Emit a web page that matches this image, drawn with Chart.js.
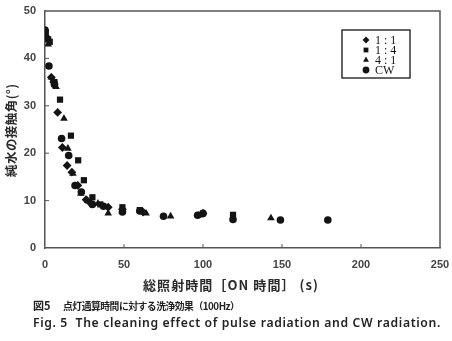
<!DOCTYPE html>
<html lang="ja">
<head>
<meta charset="UTF-8">
<title>洗浄効果</title>
<script src="https://cdn.jsdelivr.net/npm/chart.js"></script>
<style>
    html, body { margin: 0; padding: 0; background: #fff; }
    canvas { display: block; }
</style>
</head>
<body>
<canvas id="c" width="452" height="341"></canvas>
<script>
// 照射時間 [s] と純水の接触角 [°]
const seriesNames = ['1 : 1', '1 : 4', '4 : 1', 'CW'];
const pointStyles = ['rectRot', 'rect', 'triangle', 'circle'];

const x11 = [1, 4, 5.5, 8, 11, 14, 17, 20.8, 26, 29, 40, 49, 62, 100];
const y11 = [44.5, 36, 35, 28.6, 21.2, 17.4, 16, 13.2, 10.2, 9.4, 8.6, 8.2, 7.6, 7.3];

const x14 = [0.5, 2, 3, 6, 9.5, 16.4, 21, 24.6, 30, 35, 49, 60, 119];
const y14 = [45.5, 44, 43.5, 35, 31.3, 23.7, 18.5, 14.3, 10.7, 9.2, 8.6, 8.0, 7.0];

const x41 = [2, 4, 7, 12, 14.5, 17.7, 22.7, 27, 33.5, 40, 49, 64, 79.5, 97, 143];
const y41 = [43, 36, 34, 27.3, 21, 15.7, 11.5, 10, 9.4, 7.3, 7.8, 7.3, 6.7, 6.9, 6.3];

const xCW = [0, 2.5, 6, 10.5, 15, 19, 23, 30, 37, 49, 60, 75, 96.6, 100, 119, 149, 179];
const yCW = [46, 38.4, 34.5, 23.1, 19.5, 13.2, 11.8, 9.2, 8.8, 7.6, 7.8, 6.7, 6.9, 7.3, 6.0, 5.9, 5.9];

const xTicks = [0, 50, 100, 150, 200, 250];
const yTicks = [0, 10, 20, 30, 40, 50];

const xTitle = '総照射時間［ON 時間］ (s)';
const yTitle = '純水の接触角(°)';
const caption1a = '図5';
const caption1b = '点灯通算時間に対する洗浄効果（100Hz）';
const caption2 = 'Fig. 5  The cleaning effect of pulse radiation and CW radiation.';

const seriesX = [x11, x14, x41, xCW];
const seriesY = [y11, y14, y41, yCW];

const ink = '#141414';
const axisGray = '#555';

function pts(xs, ys) {
    return xs.map((x, i) => ({ x: x, y: ys[i] }));
}

const datasets = seriesNames.map((name, i) => ({
    label: name,
    data: pts(seriesX[i], seriesY[i]),
    pointStyle: pointStyles[i],
    pointRadius: pointStyles[i] === 'circle' ? 3.8 : 4.4,
    backgroundColor: ink,
    borderColor: ink,
    borderWidth: 0
}));

// draw text at a fixed font size, spreading the letters to fill a width
function spreadText(ctx, text, x, y, width) {
    ctx.letterSpacing = '0px';
    const n = [...text].length;
    const extra = (width - ctx.measureText(text).width) / Math.max(n - 1, 1);
    ctx.letterSpacing = extra.toFixed(2) + 'px';
    ctx.fillText(text, x, y);
    ctx.letterSpacing = '0px';
}

// 枠・内向き目盛・凡例・軸タイトル・図題
const decorations = {
    id: 'decorations',
    afterDraw(chart) {
        const ctx = chart.ctx;
        const a = chart.chartArea;
        const xs = chart.scales.x, ys = chart.scales.y;
        ctx.save();

        // top / right frame
        ctx.strokeStyle = axisGray;
        ctx.lineWidth = 1.5;
        ctx.beginPath();
        ctx.moveTo(a.left, a.top);
        ctx.lineTo(a.right, a.top);
        ctx.lineTo(a.right, a.bottom);
        ctx.stroke();

        // inward tick marks
        ctx.lineWidth = 1;
        ctx.beginPath();
        yTicks.slice(1, -1).forEach(v => {
            const py = ys.getPixelForValue(v);
            ctx.moveTo(a.left, py);
            ctx.lineTo(a.left + 4, py);
        });
        xTicks.slice(1, -1).forEach(v => {
            const px = xs.getPixelForValue(v);
            ctx.moveTo(px, a.bottom);
            ctx.lineTo(px, a.bottom - 4);
        });
        ctx.stroke();

        // legend
        const bx = 342, by = 30, bw = 68, bh = 48;
        ctx.fillStyle = '#fff';
        ctx.fillRect(bx, by, bw, bh);
        ctx.strokeStyle = '#333';
        ctx.lineWidth = 1.5;
        ctx.strokeRect(bx, by, bw, bh);
        ctx.font = '12px "Liberation Serif", serif';
        ctx.textBaseline = 'middle';
        ctx.textAlign = 'left';
        chart.data.datasets.forEach((ds, i) => {
            const ry = by + 10 + i * 10;
            ctx.fillStyle = ink;
            ctx.strokeStyle = ink;
            Chart.helpers.drawPoint(ctx, { pointStyle: ds.pointStyle, radius: 3.4, rotation: 0, borderWidth: 0 }, 366, ry);
            ctx.fillStyle = ink;
            ctx.fillText(ds.label, 375, ry + 0.5);
        });

        // y axis title
        ctx.fillStyle = '#2a2a2a';
        ctx.textAlign = 'left';
        ctx.textBaseline = 'middle';
        ctx.save();
        ctx.translate(11, 177);
        ctx.rotate(-Math.PI / 2);
        ctx.font = '600 12.5px "Noto Sans CJK JP", sans-serif';
        spreadText(ctx, yTitle, 0, 0, 93);
        ctx.restore();

        // x axis title
        ctx.font = '600 13px "Noto Sans CJK JP", sans-serif';
        spreadText(ctx, xTitle, 143, 285, 175);

        // figure caption
        ctx.fillStyle = '#222';
        ctx.font = 'bold 11px "Noto Sans CJK JP", sans-serif';
        ctx.fillText(caption1a, 33, 306);
        ctx.font = '600 9.8px "Noto Sans CJK JP", sans-serif';
        spreadText(ctx, caption1b, 63, 306, 177);
        ctx.font = '600 12.2px "Noto Sans", sans-serif';
        spreadText(ctx, caption2, 33, 324, 407);

        ctx.restore();
    }
};

// keep the plot box where the frame sits; labels may overhang
function fixBox(s, key, size) {
    s[key] = size;
    s.paddingTop = 0;
    s.paddingRight = 0;
    s.paddingLeft = 0;
    s.paddingBottom = 0;
}

new Chart(document.getElementById('c'), {
    type: 'scatter',
    data: { datasets: datasets },
    options: {
        responsive: false,
        animation: false,
        devicePixelRatio: 1,
        layout: { padding: { top: 11, right: 12, left: 0, bottom: 0 } },
        plugins: {
            legend: { display: false },
            tooltip: { enabled: false }
        },
        scales: {
            x: {
                type: 'linear',
                min: 0,
                max: 250,
                afterFit: s => fixBox(s, 'height', 93),
                afterBuildTicks: s => { s.ticks = xTicks.map(v => ({ value: v })); },
                grid: { display: false, drawTicks: false },
                border: { display: true, color: axisGray, width: 1.5 },
                ticks: {
                    padding: 10,
                    color: '#444',
                    font: { family: '"Liberation Sans", sans-serif', size: 11, weight: 'bold' }
                }
            },
            y: {
                type: 'linear',
                min: 0,
                max: 50,
                afterFit: s => fixBox(s, 'width', 45),
                afterBuildTicks: s => { s.ticks = yTicks.map(v => ({ value: v })); },
                grid: { display: false, drawTicks: false },
                border: { display: true, color: axisGray, width: 1.5 },
                ticks: {
                    padding: 9,
                    color: '#444',
                    font: { family: '"Liberation Sans", sans-serif', size: 11, weight: 'bold' }
                }
            }
        }
    },
    plugins: [decorations]
});
</script>
</body>
</html>
